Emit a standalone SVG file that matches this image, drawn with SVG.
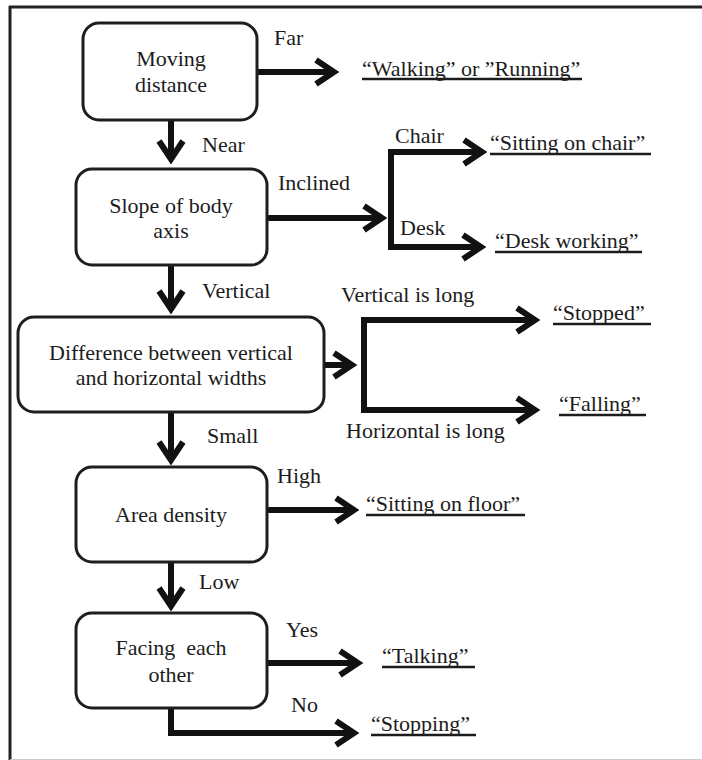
<svg xmlns="http://www.w3.org/2000/svg" width="702" height="760" viewBox="0 0 702 760">
<style>
.box{fill:#fff;stroke:#1e1e1e;stroke-width:3}
.t{font-family:'Liberation Serif','Tinos','Times New Roman','DejaVu Serif',serif;font-size:22px;fill:#1c1c1c}
.m{text-anchor:middle}
.c{fill:none;stroke:#111;stroke-width:6;stroke-linejoin:miter}
.u{stroke:#1c1c1c;stroke-width:2.5}
</style>
<defs>
<marker id="ah" markerUnits="userSpaceOnUse" markerWidth="40" markerHeight="40" viewBox="-20 -20 40 40" refX="0" refY="0" orient="auto-start-reverse" overflow="visible">
<path d="M-16,-12 L2,0 L-16,12" fill="none" stroke="#111" stroke-width="6" stroke-linejoin="miter"/>
</marker>
</defs>
<rect x="0" y="0" width="702" height="760" fill="#fff"/>
<g id="frame">
<line x1="9" y1="7" x2="702" y2="7" stroke="#222" stroke-width="3"/>
<line x1="10" y1="6" x2="10" y2="760" stroke="#222" stroke-width="3"/>
<line x1="10" y1="759.5" x2="702" y2="759.5" stroke="#ccc" stroke-width="1"/>
</g>
<g id="connectors">
<path class="c" d="M257,72 H332" marker-end="url(#ah)"/>
<path class="c" d="M171,120 V157" marker-end="url(#ah)"/>
<path class="c" d="M267,218 H380" marker-end="url(#ah)"/>
<path class="c" d="M480,152 H391 V247 H479" marker-start="url(#ah)" marker-end="url(#ah)"/>
<path class="c" d="M171,265 V307" marker-end="url(#ah)"/>
<path class="c" d="M324,365 H350" marker-end="url(#ah)"/>
<path class="c" d="M533,320 H364 V410 H533" marker-start="url(#ah)" marker-end="url(#ah)"/>
<path class="c" d="M171,412 V458" marker-end="url(#ah)"/>
<path class="c" d="M267,510 H352" marker-end="url(#ah)"/>
<path class="c" d="M171,562 V604" marker-end="url(#ah)"/>
<path class="c" d="M267,663 H356" marker-end="url(#ah)"/>
<path class="c" d="M171,708 V733 H352" marker-end="url(#ah)"/>
</g>
<g id="n-moving">
<rect class="box" x="83" y="23" width="174" height="97" rx="16"/>
<text class="t m" x="171" y="66">Moving</text>
<text class="t m" x="171" y="92">distance</text>
</g>
<g id="n-slope">
<rect class="box" x="76" y="169" width="191" height="96" rx="16"/>
<text class="t m" x="171" y="213">Slope of body</text>
<text class="t m" x="171" y="238">axis</text>
</g>
<g id="n-diff">
<rect class="box" x="18" y="317" width="306" height="95" rx="16"/>
<text class="t m" x="171" y="360">Difference between vertical</text>
<text class="t m" x="171" y="385">and horizontal widths</text>
</g>
<g id="n-area">
<rect class="box" x="76" y="467" width="191" height="95" rx="16"/>
<text class="t m" x="171" y="522">Area density</text>
</g>
<g id="n-facing">
<rect class="box" x="76" y="613" width="191" height="95" rx="16"/>
<text class="t m" x="171" y="655" xml:space="preserve">Facing  each</text>
<text class="t m" x="171" y="682">other</text>
</g>
<g id="labels">
<text class="t" x="274" y="45">Far</text>
<text class="t" x="202" y="152">Near</text>
<text class="t" x="278" y="190">Inclined</text>
<text class="t" x="395" y="143">Chair</text>
<text class="t" x="400" y="235">Desk</text>
<text class="t" x="202" y="298">Vertical</text>
<text class="t" x="341" y="302">Vertical is long</text>
<text class="t" x="346" y="438">Horizontal is long</text>
<text class="t" x="207" y="443">Small</text>
<text class="t" x="277" y="483">High</text>
<text class="t" x="199" y="589">Low</text>
<text class="t" x="286" y="637">Yes</text>
<text class="t" x="291" y="712">No</text>
</g>
<g id="r-walking">
<text class="t" x="362" y="76">“Walking” or ”Running”</text>
<line class="u" x1="362" y1="79" x2="582" y2="79"/>
</g>
<g id="r-chair">
<text class="t" x="490" y="150">“Sitting on chair”</text>
<line class="u" x1="490" y1="154" x2="651" y2="154"/>
</g>
<g id="r-desk">
<text class="t" x="495" y="248">“Desk working”</text>
<line class="u" x1="495" y1="252" x2="642" y2="252"/>
</g>
<g id="r-stopped">
<text class="t" x="553" y="320">“Stopped”</text>
<line class="u" x1="553" y1="324" x2="651" y2="324"/>
</g>
<g id="r-falling">
<text class="t" x="559" y="411">“Falling”</text>
<line class="u" x1="559" y1="415" x2="646" y2="415"/>
</g>
<g id="r-floor">
<text class="t" x="366" y="511">“Sitting on floor”</text>
<line class="u" x1="366" y1="515" x2="525" y2="515"/>
</g>
<g id="r-talking">
<text class="t" x="382" y="663">“Talking”</text>
<line class="u" x1="382" y1="667" x2="475" y2="667"/>
</g>
<g id="r-stopping">
<text class="t" x="371" y="731">“Stopping”</text>
<line class="u" x1="371" y1="735" x2="476" y2="735"/>
</g>
</svg>
